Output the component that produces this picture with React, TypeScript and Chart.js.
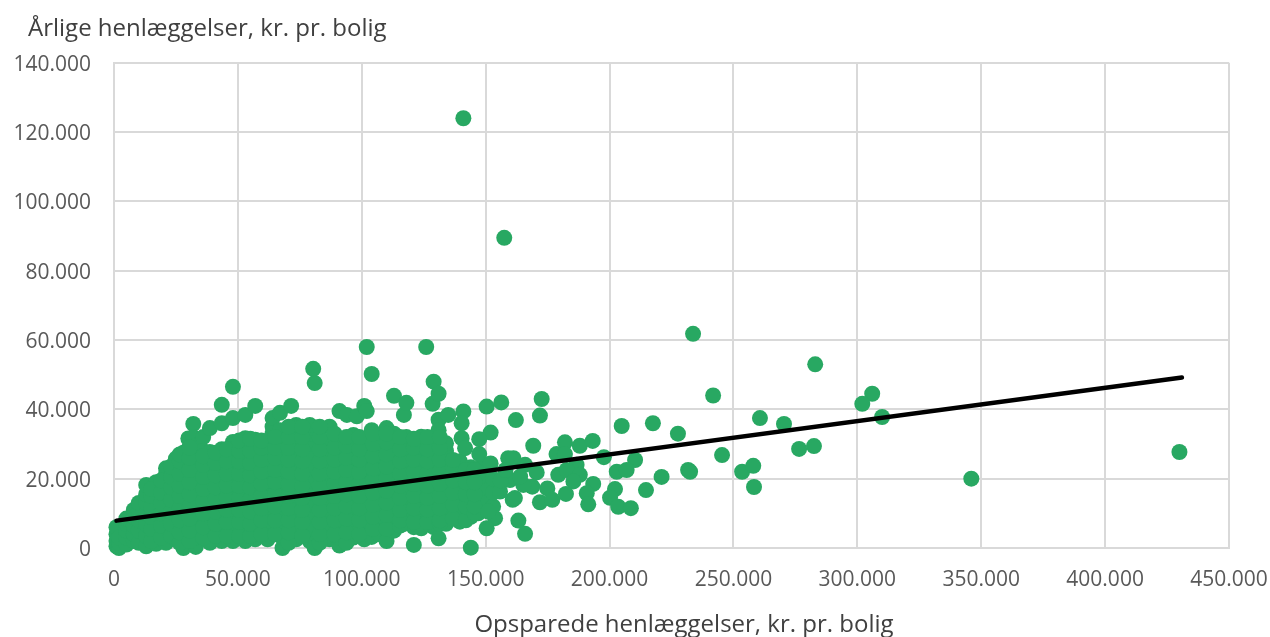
import React, { useEffect, useRef } from "react";
import { Chart, registerables } from "chart.js";

Chart.register(...registerables);

const xTitle = "\u00A0\u00A0\u00A0\u00A0Opsparede henlæggelser, kr. pr. bolig";
const yTitle = "\u00A0\u00A0\u00A0Årlige henlæggelser, kr. pr. bolig";

const trendX = [1000, 431000];
const trendY = [7900, 49200];

// columns of the dense cloud: [x, ys...] in thousands of kroner
const cloudLow: number[][] = [
  [1, 0.5, 2, 4, 6], [2, 0, 1.5, 3], [5, 1, 3, 5, 7, 8.5], [8, 2, 4, 6.5, 9, 11],
  [10, 1.5, 5, 8, 10.5, 13], [13, 0.5, 3.5, 7, 10, 13, 15.5, 18.2], [17, 1.2, 4.5, 8, 11, 14, 17, 19],
  [21, 1.5, 5, 8.5, 12, 15.5, 18.5, 21.5, 23], [25, 2.5, 6, 9.5, 13, 16, 19.5, 23, 25.8],
  [28, 0, 3.5, 7, 10.5, 14, 17.5, 21, 24.5, 27.5], [30, 31.6, 28.5], [32, 35.8, 32],
  [33, 0.3, 3, 6.5, 10, 13.5, 17, 20.5, 24, 27, 29.5], [36, 32, 28],
  [38.7, 1.5, 4.5, 8, 11.5, 15, 18.5, 22, 25.5, 27.7, 34.6],
  [43.5, 2, 5.5, 9, 12.5, 16, 19.5, 23, 26.5, 28.5, 36, 41.3],
  [48, 2, 6, 9.5, 13, 16.5, 20, 23.5, 27, 30.6, 37.5, 46.5],
];
const cloudMid: number[][] = [
  [53, 2, 5, 8.5, 12, 15.5, 19, 22.5, 26, 29, 31.7, 38.4], [57, 2.5, 6, 9.5, 13, 16.5, 20, 23.5, 27, 31.2, 41],
  [62, 2.5, 6, 10, 13.5, 17, 20.5, 24, 27.5, 30], [64, 33, 35, 37.5], [67, 39, 34, 30],
  [68, 0, 3, 6.5, 10, 13.5, 17, 20.5, 24, 27.5], [71.5, 41, 33, 29], [73.5, 2.5, 6, 9.5, 13, 16.5, 20, 23.5, 27, 30.5, 35.5],
  [79, 2, 5.5, 9, 12.5, 16, 19.5, 23, 26.5, 30, 33, 35.5], [81, 0, 47.6], [80.4, 51.7],
  [87, 2.5, 6, 9.5, 13, 16.5, 20, 23.5, 27, 30.5, 35], [91, 0.7, 3, 7, 10.5, 14, 17.5, 21, 24.5, 28, 31, 39.5],
  [94, 38.4], [96.6, 3, 6, 9.5, 13, 16.5, 20, 23.5, 27, 30, 32.6], [98, 38],
  [101, 2.5, 41], [102, 6, 9.5, 13, 16.5, 20, 23.5, 27, 30, 39.5, 58], [104, 3.2, 34, 50.2],
];
const cloudHigh: number[][] = [
  [107, 4, 7.5, 11, 14.5, 18, 21.5, 25, 28.5, 31.5], [110, 2, 34.6], [113, 5, 9, 12.5, 16, 19.5, 23, 26.5, 30, 33, 43.9],
  [117, 7, 38.4], [118, 10.5, 14, 17.5, 21, 24.5, 28, 32, 41.9], [121, 0.9, 6], [124, 5.7, 9, 12.5, 16, 19.5, 23, 26.5, 30, 32.1],
  [126, 58], [128.6, 41.6], [129, 6, 9.5, 13, 16.5, 20, 23.5, 27, 30, 48], [131, 2.8, 37, 34, 44.5],
  [134, 7, 10.5, 14, 17.5, 21, 24.5, 28, 30.2], [134.9, 38.4], [139.6, 7.6, 11, 14.5, 18, 21.5, 25],
  [141, 39.4], [140.3, 36, 31.7], [141.7, 28.8], [144, 0.1, 9, 12.5, 16, 19.5, 23.3],
  [147, 10, 14, 17.5, 21], [149, 11, 13.9, 17.5, 21, 24], [153, 12, 16, 20],
];
const cloudFillLeft: number[][] = [
  [15, 2, 5.5, 9, 12, 15, 17], [19, 3, 6.5, 10, 13, 16, 19.5], [23, 3.5, 7, 10.5, 14, 17.5, 20.5, 23.5],
  [26.5, 1.5, 4.5, 8, 11.5, 15, 18, 21.5, 25, 27], [30.5, 2, 5, 8.5, 12, 15.5, 19, 22.5, 26, 29],
  [36, 3, 6, 10, 13.5, 17, 20.5, 24, 26.5], [41, 3.5, 7, 10.5, 14, 17.5, 21, 24.5, 27.5],
  [45.5, 3.5, 7.5, 11, 14.5, 18, 21.5, 25, 28.5], [50.5, 3.5, 7.5, 11, 14.5, 18, 21.5, 25, 28, 31],
  [55, 3.5, 7, 10.5, 14, 17.5, 21, 24.5, 28, 31.5], [59.5, 4, 8, 11.5, 15, 18.5, 22, 25.5, 29, 31],
  [65, 4, 8, 12, 15.5, 19, 22.5, 26, 29, 32], [70.5, 1.5, 4.5, 8, 11.5, 15, 18.5, 22, 25.5, 29, 32, 35],
  [76, 3.5, 7.5, 11, 14.5, 18, 21.5, 25, 28.5, 32, 35],
];
const cloudFillRight: number[][] = [
  [83, 1.5, 4, 7.5, 11, 14.5, 18, 21.5, 25, 28.5, 32, 35], [89, 4, 8, 11.5, 15, 18.5, 22, 25.5, 29, 33],
  [93.8, 1.5, 4.5, 8.5, 12, 15.5, 19, 22.5, 26, 29.5, 32], [99, 4, 8, 11.5, 15, 18.5, 22, 25.5, 28.5, 32],
  [104.5, 5.5, 9, 12.5, 16, 19.5, 23, 26.5, 30, 33], [110, 5.5, 9.5, 13, 16.5, 20, 23.5, 27, 30.5, 33],
  [115.5, 6.5, 8, 11, 14.5, 18, 21.5, 25, 28.5, 32], [121, 7.5, 11.5, 15, 18.5, 22, 25.5, 29, 31.5],
  [126.5, 7.5, 11, 14.5, 18, 21.5, 25, 28.5, 32], [131.5, 7, 8, 11.5, 15, 18.5, 22, 25.5, 29, 32],
  [136.8, 8.5, 12.5, 16, 19.5, 23, 25.4], [142, 8, 12, 15.5, 19, 22.5],
  [145.5, 10, 12, 15.5, 19, 22.5],
];

const edgeX = [150.4, 156.3, 172.6, 171.9, 162.2, 204.9, 152, 147.4, 147.4, 169.2, 182, 188, 193.2, 178.6, 182, 197.7, 210.3, 159.1, 161.2, 165.9, 152, 186.7, 170.6, 179.3, 182.7, 188, 185.4, 202.9, 206.9, 193.4, 202.2, 174.9, 168.8, 165.2, 159.8, 163.9, 155.8, 160.9, 161.8, 182.4, 171.9, 176.9, 190.8, 191.4, 200.2, 203.5, 208.6, 163.2, 165.9, 153.8, 150.4, 151, 156, 158];
const edgeY = [40.8, 42, 43, 38.2, 36.9, 35.2, 33.3, 31.4, 27.1, 29.5, 30.5, 29.5, 30.9, 27.1, 27.1, 26.2, 25.4, 25.9, 25.9, 24, 24.4, 24, 21.8, 21.1, 22.5, 21.1, 19.2, 22, 22.5, 18.5, 17, 17.2, 17.7, 18.2, 19.6, 20.6, 16.3, 13.9, 14.4, 15.6, 13.2, 13.9, 15.8, 12.6, 14.5, 11.9, 11.5, 7.9, 4.1, 8.6, 5.7, 10.5, 19.5, 22.5];

const outlierX = [141, 157.5, 233.7, 241.8, 283, 306, 302, 310, 260.7, 270.4, 276.5, 282.5, 346, 430, 245.4, 253.5, 258, 258.3, 227.6, 217.5, 231.7, 232.5, 221, 214.7];
const outlierY = [124, 89.5, 61.8, 44, 53, 44.5, 41.6, 37.8, 37.5, 35.8, 28.6, 29.4, 20, 27.7, 26.8, 22, 23.7, 17.6, 33, 36, 22.5, 22, 20.5, 16.7];

const xMax = 450000;
const yMax = 140000;
const xStep = 50000;
const yStep = 20000;

const fromColumns = (cols: number[][]) =>
  cols.flatMap(([x, ...ys]) => ys.map((y) => ({ x: x * 1000, y: y * 1000 })));

const points = [
  ...fromColumns(cloudLow),
  ...fromColumns(cloudMid),
  ...fromColumns(cloudHigh),
  ...fromColumns(cloudFillLeft),
  ...fromColumns(cloudFillRight),
  ...edgeX.map((x, i) => ({ x: x * 1000, y: edgeY[i] * 1000 })),
  ...outlierX.map((x, i) => ({ x: x * 1000, y: outlierY[i] * 1000 })),
];

const fmt = (v: number | string) =>
  String(v).replace(/\B(?=(\d{3})+(?!\d))/g, ".");

const GREEN = "#28A862";
const GRID = "#D9D9D9";
const TEXT = "#595959";
const FONT = "'Open Sans'";

export default function App() {
  const ref = useRef<HTMLCanvasElement>(null);
  useEffect(() => {
    document.body.style.margin = "0";
    const chart = new Chart(ref.current!, {
      type: "scatter",
      data: {
        datasets: [
          {
            label: "Trend",
            data: trendX.map((x, i) => ({ x, y: trendY[i] })),
            showLine: true,
            borderColor: "#000000",
            borderWidth: 4.5,
            pointRadius: 0,
            borderCapStyle: "round",
            order: 0,
            clip: false,
          },
          {
            label: "Henlæggelser",
            data: points,
            backgroundColor: GREEN,
            borderColor: GREEN,
            pointRadius: 8,
            pointBorderWidth: 0,
            order: 1,
            clip: false,
          },
        ],
      },
      options: {
        animation: false,
        responsive: false,
        devicePixelRatio: 1,
        layout: { padding: { left: 9.3, right: 41, top: 15, bottom: 0 } },
        plugins: {
          legend: { display: false },
          tooltip: { enabled: false },
          title: {
            display: true,
            text: yTitle,
            align: "start",
            color: "#404040",
            font: { family: FONT, size: 24, weight: "normal", lineHeight: 1.2 },
            padding: { top: 0, bottom: 19 },
          },
        },
        scales: {
          x: {
            type: "linear",
            min: 0,
            max: xMax,
            ticks: {
              stepSize: xStep,
              color: TEXT,
              font: { family: FONT, size: 21 },
              padding: 0,
              maxRotation: 0,
              callback: (v) => fmt(v),
            },
            grid: { color: GRID, lineWidth: 2, drawTicks: true, tickLength: 19, tickColor: "rgba(0,0,0,0)" },
            border: { color: GRID, width: 2 },
            title: {
              display: true,
              text: xTitle,
              color: "#404040",
              font: { family: FONT, size: 24, weight: "normal", lineHeight: 1 },
              padding: { top: 0, bottom: 0 },
            },
            afterFit: (s: any) => { s.height = 89; },
          },
          y: {
            type: "linear",
            min: 0,
            max: yMax,
            ticks: {
              stepSize: yStep,
              color: TEXT,
              font: { family: FONT, size: 21 },
              padding: 23,
              labelOffset: 2,
              callback: (v) => fmt(v),
            },
            grid: { color: GRID, lineWidth: 2, drawTicks: false },
            border: { color: GRID, width: 2 },
            afterFit: (s: any) => { s.width = 104.7; },
          },
        },
      },
    });
    return () => chart.destroy();
  }, []);
  return (
    <div style={{ width: 1270, height: 637 }}>
      <canvas ref={ref} width={1270} height={637} style={{ display: "block" }} />
    </div>
  );
}
